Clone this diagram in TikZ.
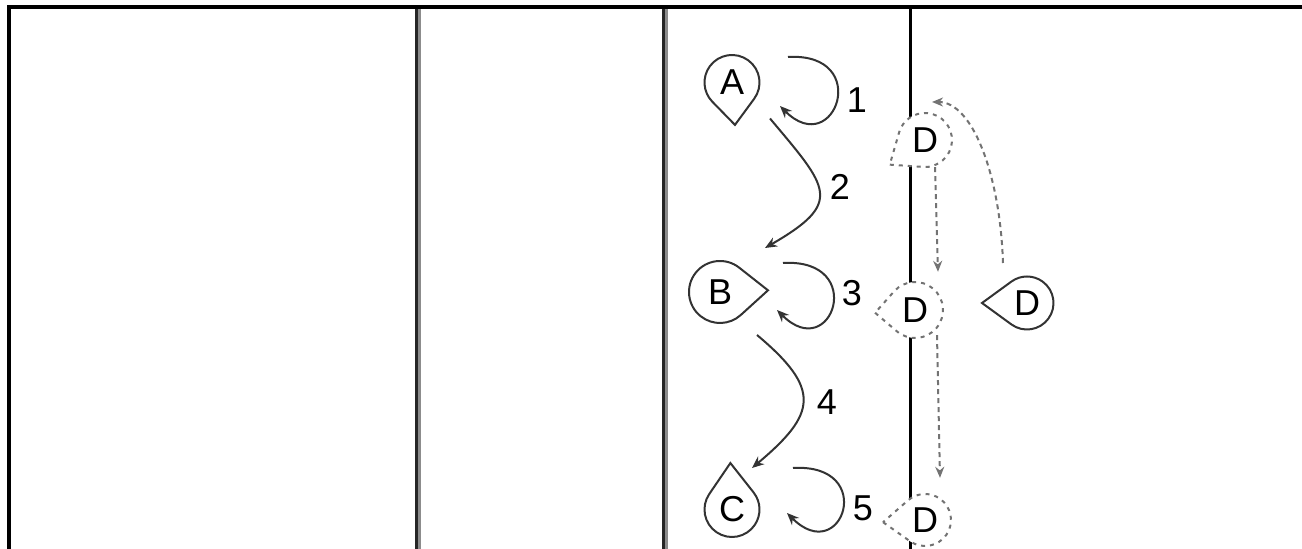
\documentclass[tikz,border=0pt]{standalone}
\usepackage{fontspec}
\setmainfont{Liberation Sans}
\usetikzlibrary{arrows.meta}

\tikzset{
  dropnode/.style={circle,inner sep=0pt,minimum size=#1,font=\fontsize{36}{42}\selectfont},
  dropnode/.default=55pt,
  solidline/.style={draw=black!80,line width=2pt},
  ghostline/.style={draw=black!55,line width=2pt,dash pattern=on 4pt off 5pt,fill=white},
  motion/.style={draw=black!80,line width=2pt,-{Stealth[length=12pt,width=10pt]}},
  track/.style={draw=black!55,line width=2pt,dash pattern=on 5pt off 4pt,-{Stealth[length=11pt,width=9pt]}},
  num/.style={font=\fontsize{36}{42}\selectfont}
}

\newcommand{\drop}[7][solidline]{%
  \pgfmathsetmacro{\dropang}{acos(#5/#6)}%
  \draw[#1,shift={(#3)},rotate=#4] (#6pt,0pt) -- (\dropang:#5pt)
    arc[start angle=\dropang,end angle=360-\dropang,radius=#5pt] -- cycle;
  \node[dropnode=2*#5pt] (#2) at (#3) {#7};}

\begin{document}
\begin{tikzpicture}[x=1pt,y=1pt]
\useasboundingbox (0,0) rectangle (1302,549);
\draw[line width=4pt] (9,0) -- (9,542) -- (1302,542);
\draw[line width=3pt,black!85] (416.5,0) -- (416.5,540);
\draw[line width=3pt,black!45] (419.5,0) -- (419.5,540);
\draw[line width=3pt,black!85] (663,0) -- (663,540);
\draw[line width=3pt,black!45] (666,0) -- (666,540);
\draw[line width=3pt] (910,0) -- (910,540);

\drop{A}{732,466.5}{-86}{27.5}{42.5}{A}
\drop{B}{720,257}{2}{31}{48}{B}
\drop{C}{732,39.5}{92}{27.5}{46.5}{C}
\drop{D}{1027,246}{180}{26.5}{45}{D}
\drop[ghostline]{D1}{925,409}{215}{27}{43}{D}
\drop[ghostline]{D2}{915,239}{184}{28}{40}{D}
\drop[ghostline]{D3}{925,29}{183}{26}{42}{D}

\node[num] (n1) at (857,449) {1};
\node[num] (n2) at (840,362) {2};
\node[num] (n3) at (852,256) {3};
\node[num] (n4) at (827,147) {4};
\node[num] (n5) at (863,41) {5};

\draw[motion] ([shift={(56,25.5)}]A.center) .. controls +(85,5) and +(55,-55) .. ([shift={(48,-23.5)}]A.center);
\draw[motion] ([shift={(38,-36)}]A.center) to[out=-50,in=30,looseness=1.8] ([shift={(45,44)}]B.center);
\draw[motion] ([shift={(63,29)}]B.center) .. controls +(85,5) and +(55,-55) .. ([shift={(57,-18)}]B.center);
\draw[motion] ([shift={(37,-43)}]B.center) to[out=-40,in=40,looseness=1.62] ([shift={(20,41.5)}]C.center);
\draw[motion] ([shift={(61,41.5)}]C.center) .. controls +(85,5) and +(55,-55) .. ([shift={(55,-3.5)}]C.center);

\draw[track] ([xshift=10pt]D1.south) -- ([shift={(23,10)}]D2.north);
\draw[track] ([shift={(22,3)}]D2.south) -- ([shift={(15,16)}]D3.north);
\draw[track] ([shift={(-24,40)}]D.center) .. controls +(-3,90) and +(40,0) .. ([shift={(7,38)}]D1.center);
\end{tikzpicture}
\end{document}
